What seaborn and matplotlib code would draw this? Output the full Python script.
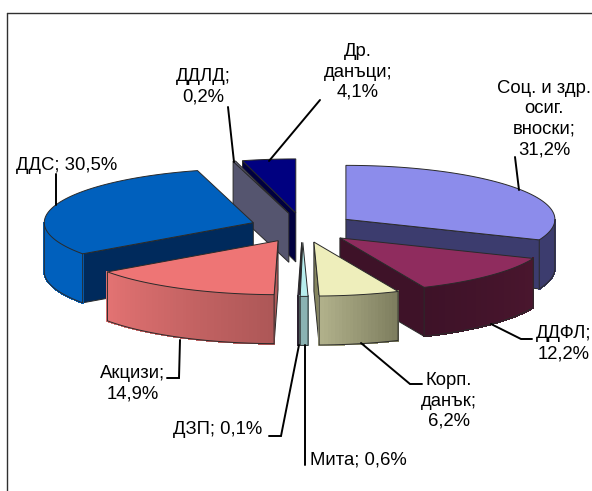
import numpy as np
import seaborn as sns
from matplotlib import pyplot as plt
from matplotlib.collections import PolyCollection

categories = ['Соц. и здр. осиг. вноски', 'ДДФЛ', 'Корп. данък', 'Мита', 'ДЗП', 'Акцизи', 'ДДС', 'ДДЛД', 'Др. данъци']
shares = [31.2, 12.2, 6.2, 0.6, 0.1, 14.9, 30.5, 0.2, 4.1]

top_colors = ['#8c8ceb', '#8f2c5e', '#eeeebb', '#b8eeee', '#4a2a6a', '#ee7575', '#0060bd', '#6a6a8a', '#000080']
face_colors = ['#3c3c6e', '#3e1228', '#85855f', '#8ab2b2', '#2e1240', '#b05a5a', '#002a5c', '#55556f', '#000040']
wall_from = ['#3c3c6e', '#4a162e', '#7d7d5e', '#8ab2b2', '#2e1240', '#ad5757', '#0060bd', '#55556f', '#000040']
wall_to = ['#3c3c6e', '#3e1228', '#b0b08a', '#8ab2b2', '#2e1240', '#e27272', '#0060bd', '#55556f', '#000040']

# pie geometry, in pixels of the figure
cx, cy = 302.5, 227.6
rx, ry = 209, 54
depth = 49
explode_x, explode_y = 0.25, 0.274
edge = '#2a2a2a'

# text, x, y
labels = [
    ('Соц. и здр.\nосиг.\nвноски;\n31,2%', 544, 119),
    ('ДДФЛ;\n12,2%', 564, 344),
    ('Корп.\nданък;\n6,2%', 449, 401),
    ('Мита; 0,6%', 358, 460),
    ('ДЗП; 0,1%', 218, 430),
    ('Акцизи;\n14,9%', 133, 384),
    ('ДДС; 30,5%', 67, 165),
    ('ДДЛД;\n0,2%', 203, 87),
    ('Др.\nданъци;\n4,1%', 358, 72),
]
leaders = [
    [(519, 190), (515, 157)],
    [(491, 324), (521, 339), (532, 339)],
    [(361, 343), (410, 384), (422, 384)],
    [(305, 345), (305, 465)],
    [(299, 345), (281, 436), (269, 436)],
    [(180, 340), (179, 378), (167, 378)],
    [(56, 205), (56, 174)],
    [(234, 162), (228, 107)],
    [(269, 161), (320, 100)],
]


def rim(x0, y0, t):
    return x0 + rx * np.sin(t), y0 - ry * np.cos(t)


def draw_slice(ax, i, t0, t1):
    mid = (t0 + t1) / 2
    x0 = cx + explode_x * rx * np.sin(mid)
    y0 = cy - explode_y * ry * np.cos(mid)
    angles = np.linspace(t0, t1, max(int(np.degrees(t1 - t0)), 2) + 1)
    xs, ys = rim(x0, y0, angles)

    # radial faces, only the ones turned to the viewer
    for t, visible in ((t0, np.sin(t0) < 0), (t1, np.sin(t1) > 0)):
        if visible:
            x1, y1 = rim(x0, y0, t)
            ax.fill([x0, x1, x1, x0], [y0, y1, y1 + depth, y0 + depth],
                    facecolor=face_colors[i], edgecolor=edge, linewidth=0.7)

    # outer wall, front half only
    front = (angles > np.pi / 2) & (angles < 3 * np.pi / 2)
    if front.sum() > 1:
        fx, fy = xs[front], ys[front]
        quads = [[(fx[k], fy[k]), (fx[k + 1], fy[k + 1]), (fx[k + 1], fy[k + 1] + depth), (fx[k], fy[k] + depth)]
                 for k in range(len(fx) - 1)]
        shades = sns.blend_palette([wall_from[i], wall_to[i]], len(quads))
        # no antialiasing here or the seams between the strips show up
        ax.add_collection(PolyCollection(quads, facecolors=shades, edgecolors=shades, linewidths=0.8, antialiaseds=False))
        outline_x = np.r_[fx[0], fx, fx[-1]]
        outline_y = np.r_[fy[0], fy + depth, fy[-1]]
        ax.plot(outline_x, outline_y, color=edge, linewidth=0.7)

    # top of the slice
    ax.fill(np.r_[x0, xs], np.r_[y0, ys], facecolor=top_colors[i], edgecolor=edge, linewidth=0.7)


sns.set_theme(style='white')
plt.rcParams['font.family'] = ['Liberation Sans', 'DejaVu Sans']

fig = plt.figure(figsize=(5.92, 4.91), dpi=100)
ax = fig.add_axes([0, 0, 1, 1])

ends = np.radians(np.cumsum(shares) * 3.6)
starts = np.r_[0, ends[:-1]]

# back slices first
for i in sorted(range(len(shares)), key=lambda n: -np.cos((starts[n] + ends[n]) / 2)):
    draw_slice(ax, i, starts[i], ends[i])

for pts in leaders:
    ax.plot(*zip(*pts), color='black', linewidth=1.4, solid_joinstyle='miter')

for text, x, y in labels:
    ax.text(x, y, text, ha='center', va='center', fontsize=13.3, color='black', linespacing=1.26)

# chart frame runs off the right and bottom of the picture
ax.plot([7, 7], [491, 13], color='#303030', linewidth=1.0)
ax.plot([7, 592], [13, 13], color='#303030', linewidth=1.0)

ax.set_xlim(0, 592)
ax.set_ylim(491, 0)
ax.axis('off')

fig.savefig('out.png', dpi=100)
